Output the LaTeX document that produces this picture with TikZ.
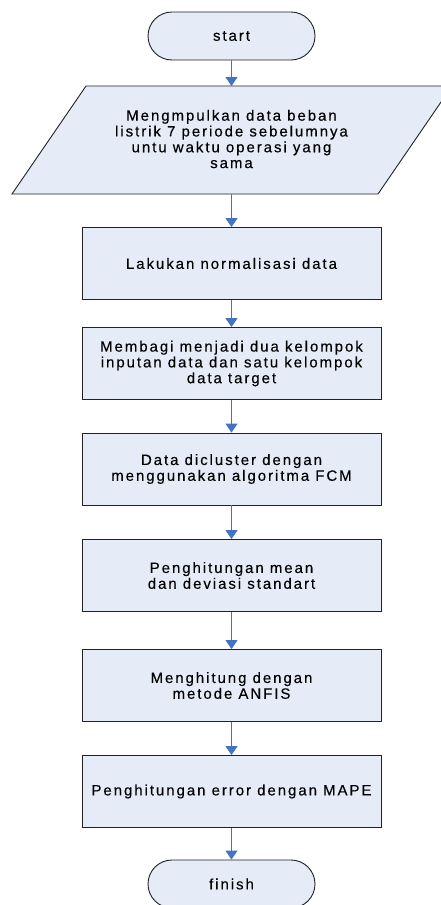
\documentclass[tikz,border=0pt]{standalone}
\usepackage{fontspec}
\setmainfont{Liberation Sans}[LetterSpace=13,FakeBold=0.2]
\usetikzlibrary{arrows.meta}
\definecolor{boxfill}{HTML}{E6ECF7}
\definecolor{boxline}{HTML}{222222}
\definecolor{arrowc}{HTML}{4472C4}
\tikzset{
  every node/.style={font=\fontsize{15}{15.8}\selectfont, align=center, text=black},
  procbox/.style={draw=boxline, fill=boxfill, line width=0.9pt, minimum width=299pt, minimum height=72pt, inner sep=0pt},
  termbox/.style={draw=boxline, fill=boxfill, line width=0.9pt, minimum width=167pt, minimum height=48pt, rounded corners=24pt, inner sep=0pt},
  flow/.style={draw=arrowc, line width=0.9pt, -{Triangle[width=12pt,length=9pt]}}
}
\begin{document}
\begin{tikzpicture}[x=1pt,y=-1pt]
\useasboundingbox (0,0) rectangle (440,905);
\node[termbox] (start) at (231.5,36) {start};
\draw[draw=boxline, fill=boxfill, line width=0.9pt] (86,86) -- (452,86) -- (378,194) -- (12,194) -- cycle;
\coordinate (pin) at (231.5,86);
\coordinate (pout) at (231.5,194);
\node (data) at (231.5,139) {Mengmpulkan data beban\\listrik 7 periode sebelumnya\\untu waktu operasi yang\\sama};
\node[procbox] (norm) at (231.5,263.5) {Lakukan normalisasi data};
\node[procbox] (bagi) at (231.5,363.5) {Membagi menjadi dua kelompok\\inputan data dan satu kelompok\\data target};
\node[procbox] (fcm) at (231.5,469) {Data dicluster dengan\\menggunakan algoritma FCM};
\node[procbox] (mean) at (231.5,575.5) {Penghitungan mean\\dan deviasi standart};
\node[procbox] (anfis) at (231.5,685.5) {Menghitung dengan\\metode ANFIS};
\node[procbox] (mape) at (231.5,791.5) {Penghitungan error dengan MAPE};
\node[termbox] (finish) at (231.5,884) {finish};
\draw[flow] (start) -- (pin);
\draw[flow] (pout) -- (norm);
\draw[flow] (norm) -- (bagi);
\draw[flow] (bagi) -- (fcm);
\draw[flow] (fcm) -- (mean);
\draw[flow] (mean) -- (anfis);
\draw[flow] (anfis) -- (mape);
\draw[flow] (mape) -- (finish);
\end{tikzpicture}
\end{document}
